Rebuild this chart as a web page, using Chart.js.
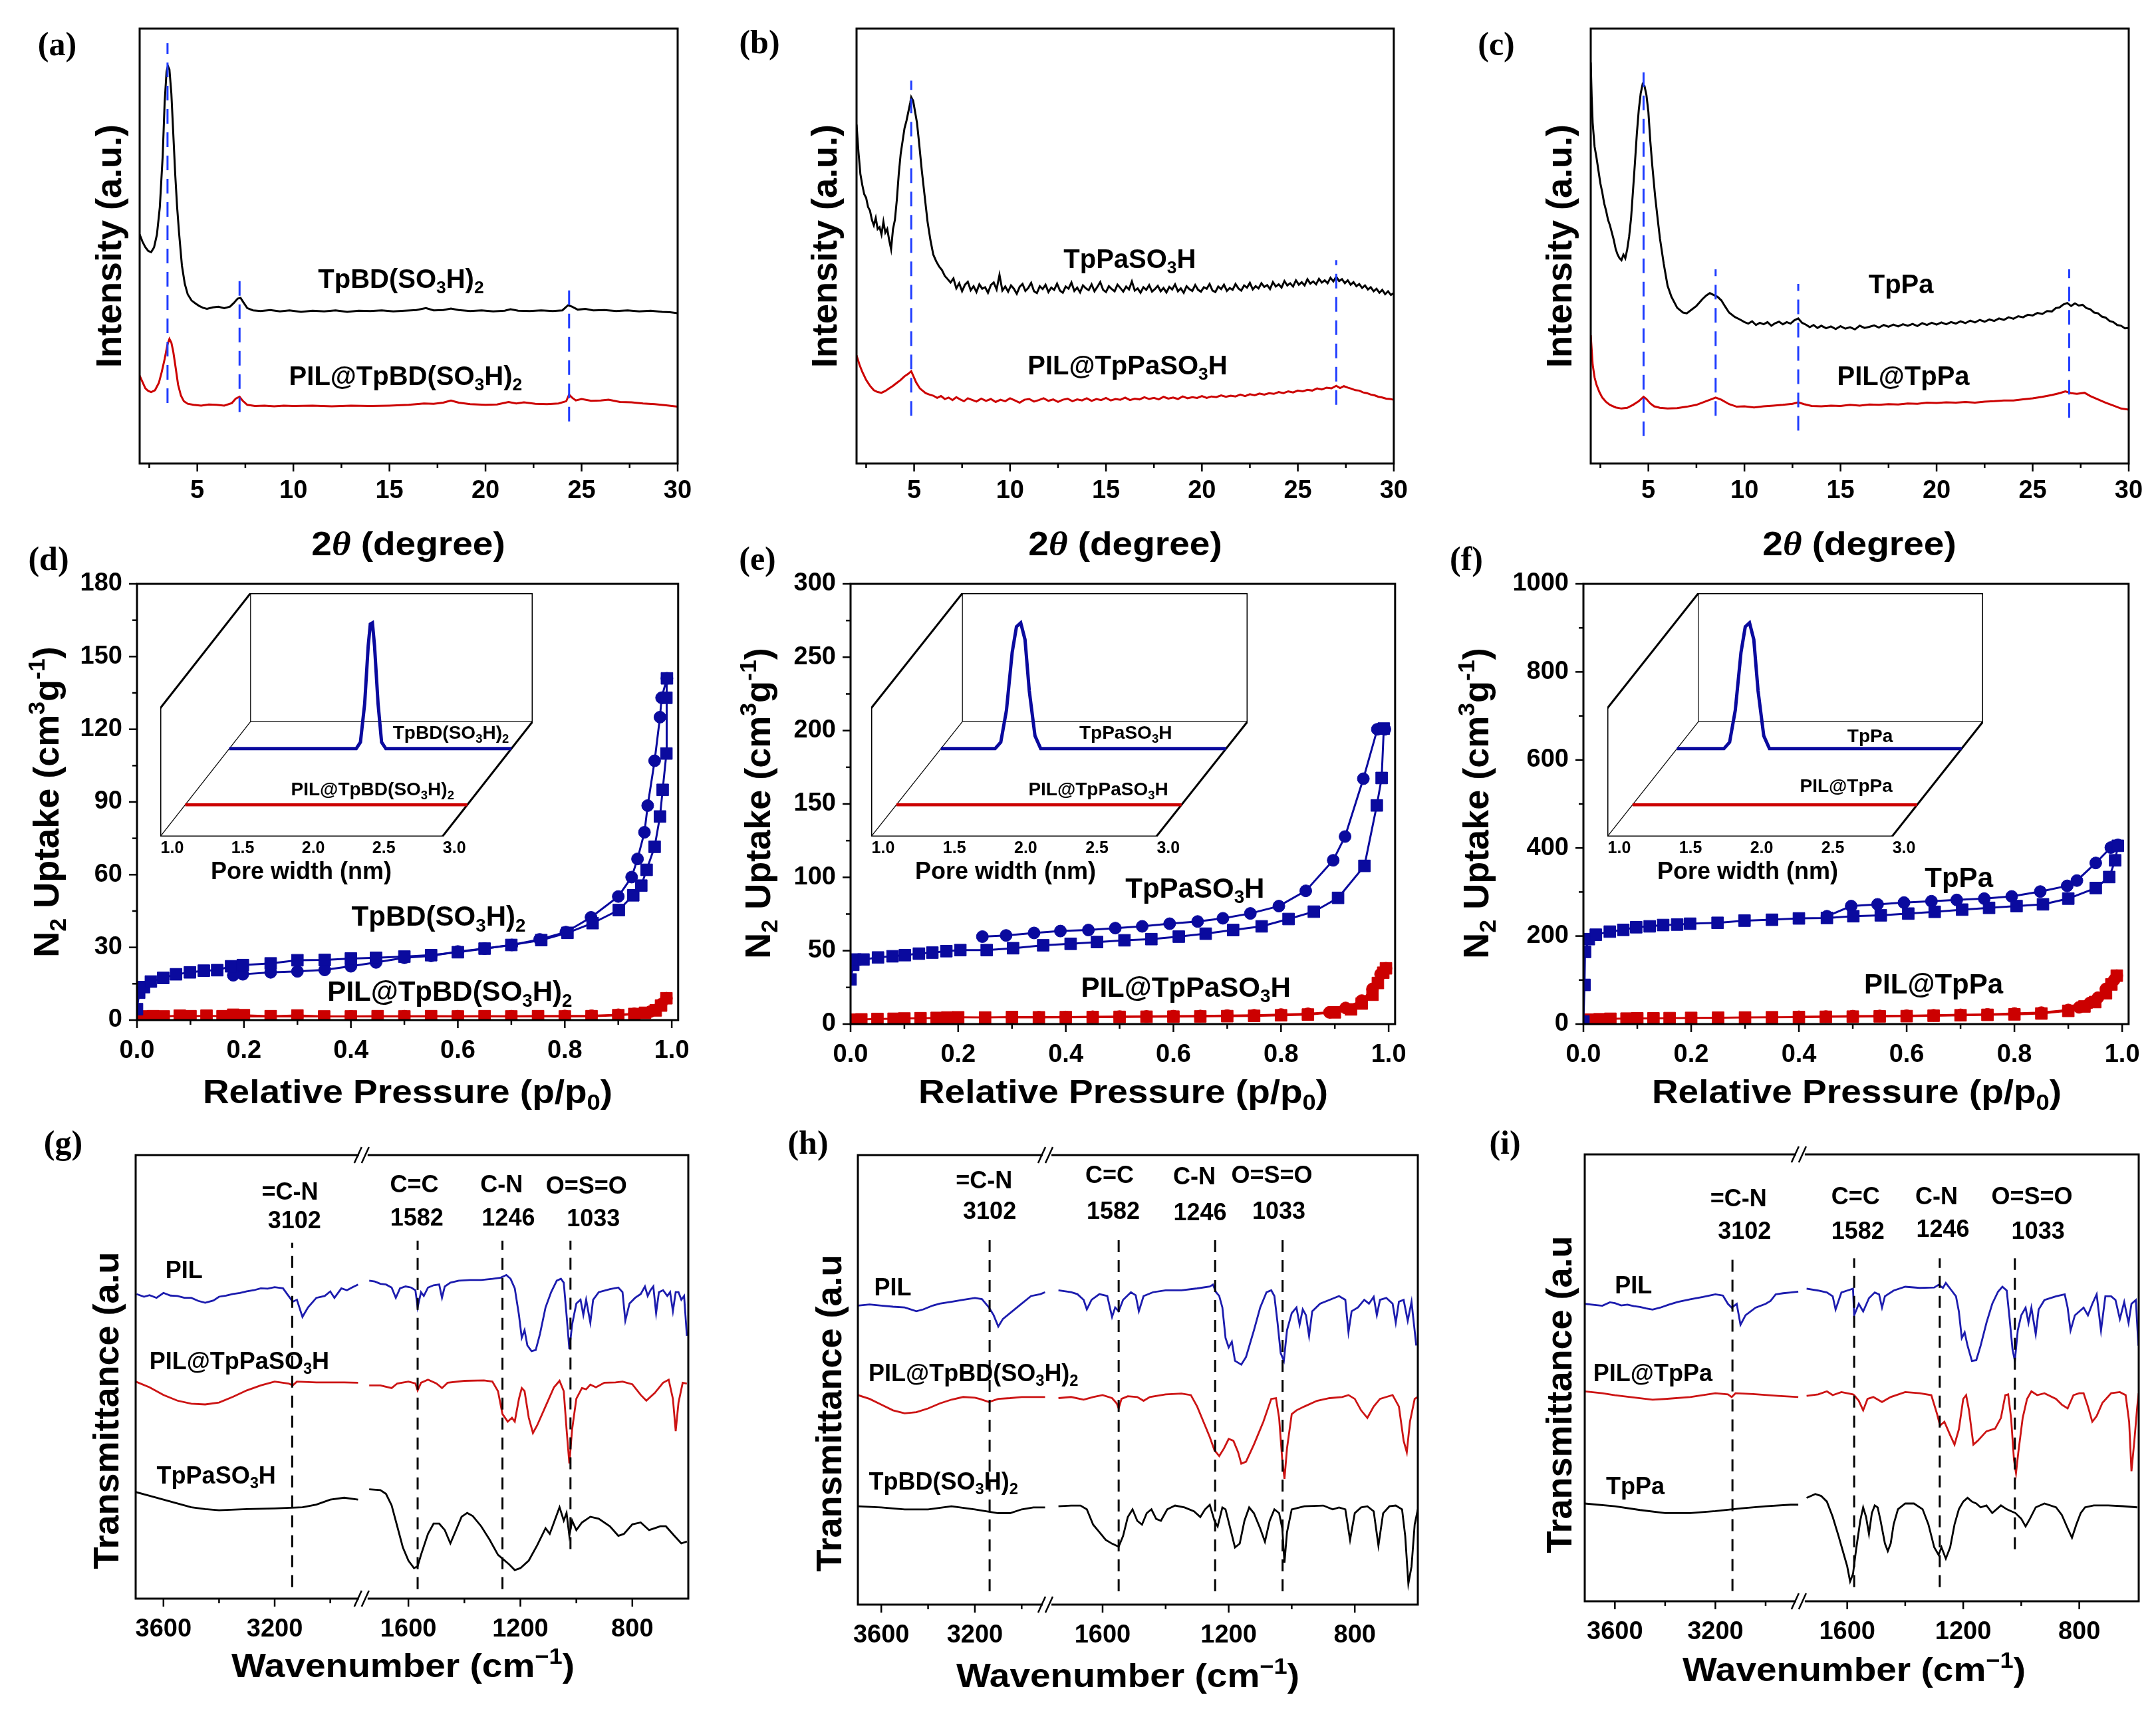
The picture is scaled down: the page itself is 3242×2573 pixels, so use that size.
<!DOCTYPE html>
<html>
<head>
<meta charset="utf-8">
<title>PXRD, N2 sorption and FTIR</title>
<script src="https://cdn.jsdelivr.net/npm/chart.js@4"></script>
<style>
  html, body { margin: 0; padding: 0; background: #fff; }
  #page { position: relative; width: 3242px; height: 2573px; overflow: hidden; background: #fff; }
  .box { position: absolute; }
  .box canvas { display: block; }
</style>
</head>
<body>
<div id="page"></div>
<script>
// ---------- data ----------
// PXRD: [2theta, intensity (a.u.)]
const aTpBD = [[2.0,625],[2.15,605],[2.3,590],[2.45,580],[2.6,577],[2.75,590],[2.9,625],[3.05,700],[3.2,840],[3.3,985],[3.4,1070],[3.47,1085],[3.55,1075],[3.65,1010],[3.75,900],[3.85,790],[3.95,700],[4.05,630],[4.2,540],[4.35,490],[4.5,462],[4.7,445],[4.9,437],[5.1,430],[5.3,425],[5.5,422],[5.8,426],[6.1,428],[6.4,424],[6.7,428],[6.9,438],[7.1,450],[7.25,452],[7.4,440],[7.6,424],[7.9,418],[8.3,416],[8.8,419],[9.3,415],[9.8,418],[10.4,414],[11,417],[11.6,415],[12.2,418],[12.8,414],[13.4,417],[14,416],[14.6,418],[15.2,415],[15.8,417],[16.4,419],[16.9,424],[17.3,418],[17.8,419],[18.2,423],[18.6,419],[19.2,416],[19.8,418],[20.4,415],[21.0,417],[21.3,421],[21.7,417],[22.3,416],[22.9,418],[23.5,416],[24.0,418],[24.3,432],[24.5,428],[24.8,420],[25.2,422],[25.6,418],[26.2,419],[26.8,416],[27.4,418],[28,415],[28.6,417],[29.2,414],[29.6,413],[30,410]];
const aPIL = [[2.0,240],[2.15,222],[2.3,205],[2.45,198],[2.6,195],[2.8,200],[3.0,220],[3.15,250],[3.3,285],[3.45,325],[3.55,340],[3.65,330],[3.75,305],[3.85,270],[4.0,215],[4.15,185],[4.3,170],[4.5,163],[4.8,160],[5.2,158],[5.6,161],[6.0,160],[6.4,158],[6.8,165],[7.0,177],[7.2,182],[7.35,172],[7.6,160],[8.0,157],[8.5,158],[9,156],[9.5,158],[10,157],[11,158],[12,156],[13,158],[14,157],[15,158],[16,160],[16.8,164],[17.3,163],[17.8,166],[18.2,172],[18.6,166],[19.2,162],[20,160],[20.6,161],[21.2,168],[21.6,164],[22,167],[22.6,163],[23.2,162],[23.8,164],[24.2,170],[24.35,188],[24.5,180],[24.7,172],[25.0,176],[25.5,171],[26.0,172],[26.4,174],[27,168],[27.6,167],[28.2,164],[28.8,162],[29.4,159],[30,155]];
const aMarks = [[3.45,165,1147],[7.2,140,505],[24.35,115,485]];

const bTpPaSO3H = [[2.0,925],[2.1,850],[2.2,790],[2.3,760],[2.4,735],[2.5,725],[2.6,700],[2.7,690],[2.8,665],[2.9,650],[3.0,670],[3.1,640],[3.2,645],[3.3,625],[3.4,660],[3.5,630],[3.6,640],[3.7,610],[3.8,585],[3.9,640],[4.0,665],[4.1,720],[4.2,790],[4.3,845],[4.4,880],[4.5,915],[4.6,935],[4.7,960],[4.8,985],[4.85,1000],[4.95,990],[5.05,960],[5.15,930],[5.25,880],[5.4,800],[5.55,730],[5.7,660],[5.85,610],[6.0,570],[6.15,552],[6.3,538],[6.45,528],[6.6,512],[6.75,503],[6.9,494],[7.05,505],[7.2,478],[7.35,492],[7.5,470],[7.65,488],[7.8,496],[7.95,473],[8.1,484],[8.25,468],[8.4,489],[8.55,477],[8.7,481],[8.85,466],[9.0,487],[9.15,494],[9.3,475],[9.45,515],[9.6,472],[9.75,483],[9.9,469],[10.05,486],[10.2,477],[10.35,463],[10.5,482],[10.65,490],[10.8,471],[10.95,479],[11.1,493],[11.25,470],[11.4,465],[11.55,484],[11.7,476],[11.85,488],[12.0,468],[12.15,480],[12.3,474],[12.45,491],[12.6,472],[12.75,466],[12.9,483],[13.05,477],[13.2,494],[13.35,471],[13.5,480],[13.65,467],[13.8,486],[13.95,478],[14.1,473],[14.25,489],[14.4,470],[14.55,482],[14.7,495],[14.85,474],[15.0,468],[15.15,484],[15.3,476],[15.45,470],[15.6,488],[15.75,479],[15.9,469],[16.05,483],[16.2,475],[16.35,497],[16.5,472],[16.65,478],[16.8,466],[16.95,481],[17.1,474],[17.25,487],[17.4,469],[17.55,476],[17.7,485],[17.85,470],[18.0,479],[18.15,467],[18.3,482],[18.45,475],[18.6,489],[18.75,470],[18.9,478],[19.05,466],[19.2,484],[19.35,476],[19.5,471],[19.65,487],[19.8,474],[19.95,469],[20.1,481],[20.25,477],[20.4,490],[20.55,472],[20.7,468],[20.85,483],[21.0,476],[21.15,488],[21.3,471],[21.45,479],[21.6,474],[21.75,490],[21.9,478],[22.05,472],[22.2,486],[22.35,480],[22.5,493],[22.65,475],[22.8,484],[22.95,478],[23.1,492],[23.25,482],[23.4,487],[23.55,476],[23.7,495],[23.85,483],[24.0,489],[24.15,480],[24.3,498],[24.45,486],[24.6,492],[24.75,483],[24.9,500],[25.05,488],[25.2,495],[25.35,486],[25.5,503],[25.65,491],[25.8,497],[25.95,489],[26.1,504],[26.25,494],[26.4,500],[26.55,492],[26.7,507],[26.85,497],[27.0,510],[27.15,498],[27.3,503],[27.45,492],[27.6,500],[27.75,488],[27.9,495],[28.05,484],[28.2,490],[28.35,479],[28.5,486],[28.65,475],[28.8,481],[28.95,470],[29.1,477],[29.25,466],[29.4,474],[29.55,462],[29.7,470],[29.85,460],[30.0,465]];
const bPIL = [[2.0,295],[2.15,270],[2.3,250],[2.5,228],[2.7,212],[2.9,200],[3.1,195],[3.3,193],[3.5,198],[3.7,205],[3.9,212],[4.1,220],[4.3,228],[4.5,238],[4.7,245],[4.85,252],[4.95,240],[5.1,222],[5.3,205],[5.6,192],[5.8,188],[6.0,185],[6.2,179],[6.4,184],[6.6,176],[6.8,180],[7.0,173],[7.2,181],[7.4,175],[7.6,170],[7.8,178],[8.0,174],[8.25,169],[8.5,177],[8.75,171],[9.0,176],[9.25,168],[9.5,174],[9.75,170],[10.0,178],[10.25,172],[10.5,166],[10.75,174],[11.0,176],[11.25,169],[11.5,173],[11.75,178],[12.0,171],[12.25,175],[12.5,168],[12.75,174],[13.0,177],[13.25,170],[13.5,175],[13.75,172],[14.0,178],[14.25,171],[14.5,176],[14.75,173],[15.0,179],[15.25,172],[15.5,176],[15.75,174],[16.0,180],[16.25,173],[16.5,177],[16.75,175],[17.0,181],[17.25,176],[17.5,179],[17.75,175],[18.0,182],[18.25,177],[18.5,180],[18.75,176],[19.0,183],[19.25,178],[19.5,181],[19.75,179],[20.0,184],[20.25,179],[20.5,183],[20.75,181],[21.0,186],[21.25,182],[21.5,185],[21.75,183],[22.0,188],[22.25,184],[22.5,189],[22.75,186],[23.0,191],[23.25,188],[23.5,192],[23.75,190],[24.0,195],[24.25,192],[24.5,197],[24.75,194],[25.0,199],[25.25,197],[25.5,201],[25.75,199],[26.0,205],[26.25,202],[26.5,207],[26.75,205],[27.0,212],[27.2,206],[27.4,211],[27.6,207],[27.8,204],[28.0,200],[28.2,199],[28.4,194],[28.6,192],[28.8,188],[29.0,186],[29.2,182],[29.4,180],[29.6,177],[29.8,176],[30,174]];
const bMarks = [[4.85,130,1045],[27.0,160,555]];

const cTpPa = [[2.0,1095],[2.05,1000],[2.1,930],[2.2,865],[2.3,835],[2.4,800],[2.5,765],[2.6,740],[2.7,710],[2.8,690],[2.9,665],[3.0,650],[3.1,630],[3.2,610],[3.3,585],[3.4,570],[3.5,560],[3.6,555],[3.7,570],[3.8,560],[3.9,585],[4.0,620],[4.1,670],[4.2,745],[4.3,820],[4.4,900],[4.5,965],[4.6,1010],[4.7,1035],[4.8,1030],[4.9,1005],[5.0,960],[5.1,880],[5.2,815],[5.35,730],[5.5,660],[5.6,615],[5.8,545],[6.0,485],[6.2,455],[6.5,425],[6.8,412],[7.0,410],[7.2,418],[7.5,430],[7.8,448],[8.0,458],[8.2,465],[8.4,460],[8.6,455],[8.8,445],[9.0,428],[9.2,412],[9.5,400],[9.8,392],[10.0,386],[10.2,382],[10.4,388],[10.6,378],[10.8,384],[11,380],[11.2,386],[11.4,376],[11.6,383],[11.8,387],[12.0,380],[12.2,386],[12.4,382],[12.6,391],[12.8,396],[13.0,384],[13.2,379],[13.4,372],[13.6,378],[13.8,370],[14.0,376],[14.25,369],[14.5,374],[14.75,367],[15.0,375],[15.25,368],[15.5,372],[15.75,366],[16.0,376],[16.25,370],[16.5,373],[16.75,377],[17.0,371],[17.25,378],[17.5,373],[17.75,379],[18.0,374],[18.25,380],[18.5,376],[18.75,381],[19.0,375],[19.25,383],[19.5,378],[19.75,384],[20.0,379],[20.25,385],[20.5,380],[20.75,386],[21.0,382],[21.25,388],[21.5,383],[21.75,390],[22.0,385],[22.25,392],[22.5,387],[22.75,393],[23.0,389],[23.25,396],[23.5,392],[23.75,399],[24.0,395],[24.25,402],[24.5,399],[24.75,406],[25.0,404],[25.25,411],[25.5,408],[25.75,416],[26.0,415],[26.2,424],[26.4,426],[26.6,434],[26.8,438],[27.0,430],[27.2,437],[27.4,431],[27.6,433],[27.8,424],[28.0,421],[28.2,412],[28.4,410],[28.6,401],[28.8,398],[29.0,389],[29.2,386],[29.4,378],[29.6,376],[29.8,369],[30,370]];
const cPIL = [[2.0,350],[2.05,310],[2.1,270],[2.2,235],[2.3,215],[2.45,195],[2.6,180],[2.8,168],[3.0,160],[3.3,153],[3.6,150],[3.9,152],[4.2,160],[4.5,170],[4.75,182],[4.9,176],[5.1,164],[5.3,156],[5.6,152],[6.0,150],[6.5,151],[7.0,155],[7.5,160],[8.0,170],[8.3,176],[8.5,180],[8.8,174],[9.2,162],[9.6,155],[10,156],[10.5,153],[11,156],[11.5,158],[12,160],[12.5,163],[12.8,167],[13.1,162],[13.5,157],[14,156],[14.5,158],[15,157],[15.5,160],[16,158],[16.5,161],[17,160],[17.5,162],[18,161],[18.5,164],[19,163],[19.5,166],[20,165],[20.5,167],[21,166],[21.5,168],[22,166],[22.5,169],[23,170],[23.5,172],[24,172],[24.5,175],[25,178],[25.5,182],[26,187],[26.4,192],[26.7,197],[27,192],[27.3,190],[27.7,193],[28,184],[28.4,175],[28.8,166],[29.2,158],[29.6,150],[30,147]];
const cMarks = [[4.75,75,1080],[8.5,130,530],[12.8,90,490],[26.9,125,530]];

const xrdTicks = [5, 10, 15, 20, 25, 30];
const xrdTickLabels = ['5', '10', '15', '20', '25', '30'];
const xrdMinor = [2.5, 7.5, 12.5, 17.5, 22.5, 27.5];

// N2 isotherms: [p/p0, uptake cm3/g]
const dTpBDads = [[0.0,4.5],[0.004,11.3],[0.013,13.6],[0.026,15.9],[0.049,17.4],[0.073,18.9],[0.099,19.7],[0.125,20.4],[0.15,20.6],[0.176,22.2],[0.198,22.7],[0.25,23.4],[0.3,24.7],[0.351,24.8],[0.4,25.4],[0.447,25.7],[0.5,26.2],[0.55,26.8],[0.6,28],[0.65,29.5],[0.7,31],[0.756,33],[0.805,36],[0.852,40],[0.901,45.4],[0.928,51.5],[0.943,55.5],[0.953,62],[0.968,71.5],[0.978,84],[0.983,95],[0.99,110],[0.99,133],[0.991,141]];
const dTpBDdes = [[0.991,141],[0.981,133],[0.978,125],[0.968,107],[0.955,88.5],[0.949,77.5],[0.936,66.5],[0.925,59],[0.9,51],[0.849,42.4],[0.802,36.3],[0.753,33.3],[0.701,31],[0.65,29.5],[0.6,28.3],[0.55,26.5],[0.5,25.7],[0.447,23.8],[0.4,22.2],[0.351,20.7],[0.3,20.1],[0.25,19.7],[0.198,18.9],[0.18,18.5]];
const dPILads = [[0.0,1.0],[0.01,1.5],[0.03,1.6],[0.05,1.5],[0.08,1.8],[0.1,1.6],[0.13,1.8],[0.16,1.6],[0.18,2.2],[0.2,2.0],[0.25,1.6],[0.3,1.9],[0.35,1.5],[0.4,1.5],[0.45,1.6],[0.5,1.5],[0.55,1.6],[0.6,1.5],[0.65,1.6],[0.7,1.5],[0.75,1.6],[0.8,1.5],[0.85,1.6],[0.9,2.0],[0.93,2.5],[0.95,3.0],[0.97,4.0],[0.98,6.0],[0.99,9.0]];
const dPILdes = [[0.99,9.0],[0.98,6.5],[0.96,3.5],[0.93,2.6],[0.9,2.2],[0.85,1.8],[0.8,1.7],[0.7,1.6],[0.6,1.6],[0.5,1.6],[0.4,1.5],[0.3,1.5],[0.2,1.5]];

const eTpPaSO3Hads = [[0.0,30.4],[0.005,40.4],[0.009,44],[0.024,44],[0.051,45.4],[0.078,46.2],[0.101,47],[0.127,48],[0.152,48.7],[0.178,49.7],[0.204,50.4],[0.253,50.4],[0.302,51.7],[0.358,53.7],[0.409,54.7],[0.458,55.9],[0.509,57.1],[0.559,57.9],[0.61,59.6],[0.66,61.6],[0.711,64.1],[0.764,66.6],[0.814,71.6],[0.861,76.6],[0.906,86],[0.955,107.8],[0.978,149],[0.987,167.7],[0.991,201.4]];
const eTpPaSO3Hdes = [[0.993,200.9],[0.979,200.9],[0.953,167.2],[0.919,127.8],[0.897,111.6],[0.846,90.8],[0.796,80.4],[0.743,75.4],[0.692,72.1],[0.645,69.9],[0.593,68.4],[0.542,66.6],[0.492,65.4],[0.442,64.1],[0.39,63.4],[0.341,62.1],[0.289,60.4],[0.245,59.6]];
const ePILads = [[0.0,3],[0.02,3.2],[0.05,3.5],[0.08,3.6],[0.1,3.8],[0.13,4.0],[0.16,4.2],[0.18,4.5],[0.2,4.6],[0.25,4.5],[0.3,4.8],[0.35,4.6],[0.4,4.7],[0.45,4.8],[0.5,4.9],[0.55,5.0],[0.6,5.1],[0.65,5.2],[0.7,5.4],[0.75,5.6],[0.8,6.0],[0.85,6.5],[0.9,8],[0.93,10],[0.95,14],[0.97,20],[0.98,28],[0.99,35],[0.995,38]];
const ePILdes = [[0.995,38],[0.985,34],[0.97,24],[0.95,16],[0.92,11],[0.89,8],[0.85,7],[0.8,6.5],[0.75,6],[0.7,5.8],[0.65,5.5],[0.6,5.4],[0.55,5.2],[0.5,5.1],[0.45,5],[0.4,4.8],[0.35,4.7],[0.3,4.6]];

const fTpPaads = [[0.0,6],[0.002,89],[0.003,164],[0.01,193],[0.023,203],[0.049,210],[0.074,214],[0.098,220],[0.123,222],[0.148,225],[0.174,226],[0.198,228],[0.249,230],[0.299,235],[0.35,237],[0.4,240],[0.452,241],[0.501,245],[0.552,247],[0.603,251],[0.652,255],[0.703,260],[0.753,264],[0.804,268],[0.853,272],[0.9,285],[0.951,309],[0.976,334],[0.987,372],[0.992,405]];
const fTpPades = [[0.992,407],[0.979,401],[0.951,366],[0.916,326],[0.898,314],[0.848,301],[0.795,290],[0.744,285],[0.693,282],[0.646,279],[0.595,276],[0.546,272],[0.497,268],[0.452,245]];
const fPILads = [[0.0,5],[0.01,10],[0.03,11],[0.05,12],[0.08,12.5],[0.1,13],[0.13,13],[0.16,13.5],[0.2,14],[0.25,14.5],[0.3,15],[0.35,15.5],[0.4,16],[0.45,16.5],[0.5,17],[0.55,17.5],[0.6,18],[0.65,19],[0.7,20],[0.75,21],[0.8,22],[0.85,24],[0.9,30],[0.93,40],[0.95,50],[0.97,70],[0.98,90],[0.99,110]];
const fPILdes = [[0.99,110],[0.985,100],[0.97,80],[0.955,60],[0.94,48],[0.92,38],[0.9,32],[0.85,26],[0.8,24],[0.75,22],[0.7,21],[0.65,20],[0.6,19],[0.55,18.5],[0.5,18],[0.45,17],[0.4,16.5]];

const isoXTicks = [0, 0.2, 0.4, 0.6, 0.8, 1.0];
const isoXLabels = ['0.0', '0.2', '0.4', '0.6', '0.8', '1.0'];
const isoXMinor = [0.1, 0.3, 0.5, 0.7, 0.9];
const dYTicks = [0, 30, 60, 90, 120, 150, 180];
const eYTicks = [0, 50, 100, 150, 200, 250, 300];
const fYTicks = [0, 200, 400, 600, 800, 1000];

// pore size distributions (insets): [pore width nm, normalised dV]
const dPoreTpBD = [[1.0,0],[1.9,0],[1.93,0.05],[1.96,0.35],[1.985,0.8],[2.0,0.97],[2.015,0.98],[2.03,0.8],[2.055,0.35],[2.08,0.05],[2.11,0],[3.0,0]];
const ePoreTpPaSO3H = [[1.0,0],[1.38,0],[1.42,0.05],[1.46,0.3],[1.5,0.75],[1.53,0.95],[1.56,0.98],[1.59,0.85],[1.62,0.45],[1.66,0.1],[1.7,0],[3.0,0]];
const fPoreTpPa = [[1.0,0],[1.33,0],[1.37,0.05],[1.41,0.3],[1.45,0.75],[1.48,0.95],[1.51,0.98],[1.54,0.85],[1.57,0.45],[1.61,0.1],[1.65,0],[3.0,0]];
const porePIL = [[1.0,0],[3.0,0]];
const poreTicks = [1.0, 1.5, 2.0, 2.5, 3.0];
const poreLabels = ['1.0', '1.5', '2.0', '2.5', '3.0'];

// FTIR: [wavenumber cm-1, transmittance (a.u.)]
const gPIL = [[3697,800],[3670,793],[3650,797],[3625,790],[3600,803],[3575,796],[3550,795],[3525,790],[3500,790],[3475,782],[3450,777],[3420,783],[3400,793],[3375,796],[3350,800],[3325,803],[3300,807],[3275,810],[3250,815],[3225,814],[3200,818],[3170,815],[3150,795],[3135,780],[3120,785],[3100,740],[3080,765],[3050,790],[3020,795],[3000,807],[2985,790],[2960,815],[2940,810],[2920,818],[2900,825],[1740,835],[1720,833],[1700,827],[1680,825],[1660,817],[1645,790],[1630,815],[1610,820],[1590,817],[1575,810],[1567,765],[1555,805],[1545,795],[1530,817],[1510,823],[1490,825],[1480,790],[1470,820],[1450,830],[1420,835],[1380,837],[1340,837],[1300,840],[1270,843],[1250,850],[1235,840],[1220,815],[1205,745],[1195,685],[1185,705],[1175,665],[1160,650],[1145,653],[1130,695],[1110,765],[1090,805],[1070,835],[1055,840],[1045,830],[1035,745],[1025,655],[1015,720],[1000,775],[985,785],[975,745],[965,785],[950,725],[940,785],[920,805],[880,813],[850,817],[835,805],[825,730],[810,775],[790,790],[770,800],[755,820],[745,795],[735,810],[725,820],[715,750],[705,805],[690,810],[675,795],[665,805],[655,755],[645,805],[635,805],[625,785],[615,795],[605,690]];
const gPILTpPaSO3H = [[3700,570],[3650,555],[3600,535],[3550,520],[3500,512],[3450,510],[3400,515],[3350,530],[3300,547],[3250,560],[3200,570],[3150,565],[3135,560],[3120,570],[3050,568],[2950,568],[2900,567],[1740,560],[1700,560],[1660,553],[1640,565],[1600,570],[1575,565],[1567,547],[1555,567],[1530,575],[1500,565],[1480,553],[1460,567],[1400,572],[1330,573],[1300,570],[1280,545],[1264,485],[1245,465],[1230,475],[1220,465],[1205,525],[1195,553],[1185,545],[1170,475],[1155,435],[1140,455],[1110,505],[1080,555],[1060,572],[1045,545],[1035,445],[1025,355],[1015,445],[1000,525],[980,553],[965,550],[950,562],[930,555],[900,567],[860,568],[835,570],[800,563],[770,535],[750,520],[720,540],[690,567],[670,575],[655,525],[645,440],[635,515],[620,567],[605,565]];
const gTpPaSO3H = [[3700,280],[3650,270],[3600,260],[3550,250],[3500,240],[3450,235],[3400,232],[3300,235],[3200,237],[3100,240],[3050,247],[3000,260],[2950,265],[2900,260],[1740,287],[1700,285],[1680,275],[1660,245],[1640,190],[1620,135],[1600,100],[1580,80],[1567,85],[1555,115],[1530,170],[1510,197],[1490,197],[1470,180],[1450,145],[1430,180],[1410,215],[1390,225],[1370,217],[1340,190],[1310,155],[1280,115],[1264,105],[1240,90],[1220,75],[1200,80],[1170,100],[1140,140],[1110,185],[1095,170],[1080,200],[1060,240],[1045,205],[1035,225],[1025,165],[1015,205],[1000,180],[980,200],[950,215],[920,210],[880,190],[850,165],[830,170],[800,195],[770,200],[740,180],[720,185],[700,190],[680,190],[650,165],[625,145],[605,150]];

const hPIL = [[3700,785],[3650,788],[3600,785],[3550,782],[3500,780],[3450,770],[3420,775],[3380,785],[3350,790],[3300,795],[3250,800],[3200,805],[3170,802],[3140,780],[3120,760],[3100,730],[3080,750],[3040,770],[3000,790],[2960,810],[2920,815],[2900,820],[1740,825],[1700,820],[1680,815],[1660,800],[1650,775],[1635,800],[1610,815],[1585,810],[1570,755],[1560,780],[1549,770],[1535,800],[1510,820],[1495,812],[1485,770],[1470,810],[1440,820],[1400,825],[1350,825],[1300,830],[1260,835],[1250,840],[1240,820],[1230,810],[1220,780],[1210,700],[1200,675],[1190,690],[1180,640],[1160,630],[1145,650],[1120,720],[1100,780],[1080,820],[1065,825],[1055,810],[1045,740],[1035,660],[1025,640],[1015,720],[1000,765],[985,780],[975,735],[965,775],[955,760],[945,705],[935,770],[910,790],[880,800],[850,810],[830,800],[820,715],[810,770],[790,780],[770,800],[755,790],[740,808],[730,760],[720,800],[700,805],[680,790],[670,740],[660,795],[645,800],[632,745],[620,795],[605,680]];
const hPILTpBD = [[3700,550],[3650,540],[3600,525],[3550,510],[3500,502],[3450,505],[3400,515],[3350,528],[3300,538],[3250,545],[3200,543],[3180,540],[3140,532],[3100,540],[3050,542],[3000,545],[2950,545],[2900,545],[1740,542],[1700,545],[1660,538],[1630,545],[1600,550],[1570,542],[1555,528],[1549,515],[1540,540],[1520,547],[1490,545],[1470,535],[1450,545],[1400,552],[1350,554],[1320,550],[1300,520],[1280,480],[1260,440],[1245,405],[1230,390],[1215,410],[1200,435],[1185,430],[1170,400],[1160,370],[1145,375],[1120,420],[1090,480],[1065,540],[1050,542],[1040,490],[1030,380],[1023,330],[1015,410],[1000,500],[985,510],[960,520],[920,535],[880,542],[840,545],[820,550],[800,540],[780,510],[760,490],[740,520],[720,540],[700,545],[680,550],[660,520],[645,430],[635,400],[625,480],[610,540],[600,545]];
const hTpBD = [[3700,258],[3600,255],[3500,250],[3400,250],[3300,258],[3200,250],[3100,240],[3050,240],[3000,250],[2950,255],[2900,255],[1740,258],[1700,260],[1670,260],[1650,250],[1630,210],[1610,190],[1590,170],[1570,160],[1549,152],[1535,180],[1520,230],[1505,250],[1490,220],[1475,210],[1460,240],[1445,250],[1430,225],[1415,220],[1395,250],[1370,260],[1340,255],[1310,245],[1290,230],[1275,250],[1260,262],[1245,220],[1235,205],[1220,255],[1210,250],[1195,200],[1180,150],[1165,160],[1150,220],[1135,255],[1120,240],[1100,200],[1085,165],[1070,220],[1055,250],[1040,240],[1030,200],[1023,110],[1015,190],[1000,250],[960,258],[900,260],[870,250],[850,255],[830,250],[815,170],[800,240],[780,255],[760,258],[740,245],[725,155],[710,240],[690,258],[670,260],[650,250],[640,180],[630,55],[620,100],[610,210],[600,250]];

const iPIL = [[3720,782],[3680,779],[3650,777],[3620,786],[3600,784],[3575,778],[3550,780],[3525,776],[3500,774],[3475,770],[3450,767],[3420,772],[3385,780],[3350,787],[3300,794],[3250,800],[3200,807],[3170,804],[3150,782],[3135,772],[3115,782],[3100,727],[3080,752],[3040,772],[3000,782],[2980,790],[2960,807],[2930,810],[2900,812],[2870,814],[1740,822],[1700,817],[1670,812],[1650,802],[1640,767],[1620,812],[1600,817],[1580,822],[1576,752],[1560,782],[1545,762],[1525,797],[1505,812],[1490,807],[1480,772],[1470,802],[1440,817],[1400,827],[1350,824],[1300,825],[1285,832],[1270,824],[1260,837],[1240,817],[1225,802],[1215,762],[1205,692],[1195,707],[1185,672],[1170,632],[1155,634],[1140,672],[1120,732],[1100,782],[1080,814],[1065,827],[1050,817],[1040,742],[1030,662],[1022,632],[1012,712],[1000,752],[985,772],[975,732],[965,772],[950,702],[940,767],[920,792],[880,802],[850,807],[840,772],[830,712],[815,752],[800,762],[785,772],[770,752],[755,782],[740,807],[725,712],[710,802],[690,802],[675,792],[660,742],[645,787],[630,732],[620,782],[605,792],[596,672]];
const iPILTpPa = [[3720,552],[3650,547],[3600,542],[3500,534],[3450,530],[3400,532],[3300,537],[3200,547],[3150,544],[3135,537],[3120,547],[3050,545],[2950,540],[2870,537],[1740,540],[1700,544],[1670,552],[1650,542],[1620,550],[1580,544],[1576,542],[1560,527],[1545,502],[1530,532],[1510,537],[1480,524],[1450,537],[1400,550],[1350,547],[1310,542],[1290,492],[1280,462],[1265,472],[1245,437],[1230,412],[1215,452],[1200,532],[1190,542],[1180,502],[1165,412],[1150,422],[1120,447],[1090,454],[1070,482],[1055,542],[1045,544],[1035,482],[1025,372],[1018,337],[1010,392],[995,482],[980,532],[965,552],[945,542],[920,547],[880,532],[860,517],[840,507],[820,542],[800,547],[785,547],[770,512],[755,472],[740,487],[720,522],[690,547],[660,550],[640,542],[628,472],[620,342],[610,422],[600,512],[595,547]];
const iTpPa = [[3720,257],[3600,250],[3500,240],[3400,232],[3300,232],[3200,237],[3100,244],[3000,250],[2900,254],[2870,254],[1740,272],[1710,282],[1690,277],[1670,262],[1650,222],[1630,172],[1615,132],[1600,92],[1590,52],[1580,72],[1570,132],[1555,212],[1545,247],[1535,222],[1525,177],[1515,232],[1505,252],[1495,247],[1485,212],[1470,152],[1460,132],[1450,152],[1440,202],[1425,242],[1400,257],[1370,257],[1340,242],[1320,202],[1300,142],[1285,122],[1275,142],[1260,112],[1245,142],[1230,202],[1215,242],[1200,262],[1185,272],[1170,262],[1155,257],[1140,247],[1120,252],[1100,232],[1085,242],[1070,252],[1050,242],[1035,237],[1020,232],[1000,217],[985,197],[970,217],[950,247],[920,257],[880,247],[860,227],[840,192],[825,167],[810,202],[795,232],[780,247],[750,252],[700,252],[650,250],[600,247]];

const ftTicks = [3600, 3200, 1600, 1200, 800];
const ftTickLabels = ['3600', '3200', '1600', '1200', '800'];
const ftMinor = [3400, 3000, 1400, 1000];
const ftBandNames = ['=C-N', 'C=C', 'C-N', 'O=S=O'];
const ftBandValues = ['3102', '1582', '1246', '1033'];
// where the dashed guides sit in each panel: [wavenumber, yBottom, yTop]
const gGuides = [[3137,30,935],[1567,25,940],[1264,25,940],[1021,130,940]];
const hGuides = [[3137,35,965],[1549,35,960],[1243,35,960],[1029,35,960]];
const iGuides = [[3132,27,902],[1576,37,902],[1281,37,902],[1022,137,902]];

// ---------- drawing helpers ----------
const SANS = "'Liberation Sans', Arial, Helvetica, sans-serif";
const SERIF = "'Liberation Serif', 'Times New Roman', serif";
const BLACK = '#000000', RED = '#cc0000', NAVY = '#0a0a9e', DASHBLUE = '#1f3cff', FTBLUE = '#1c1cae', FTRED = '#cc1414';

Chart.defaults.font.family = SANS;
Chart.defaults.font.weight = 'bold';
Chart.defaults.color = '#000';

function parseRich(s) {
  const out = [];
  let buf = '', i = 0;
  while (i < s.length) {
    const c = s[i];
    if ((c === '_' || c === '^' || c === '*') && s[i + 1] === '{') {
      if (buf) { out.push({ t: buf, m: 'n' }); buf = ''; }
      const end = s.indexOf('}', i);
      out.push({ t: s.slice(i + 2, end), m: c === '_' ? 'sub' : c === '^' ? 'sup' : 'it' });
      i = end + 1;
    } else { buf += c; i++; }
  }
  if (buf) out.push({ t: buf, m: 'n' });
  return out;
}

function drawRich(ctx, s, x, y, size, o) {
  o = o || {};
  const fam = o.family || SANS;
  const fontOf = m => {
    const sz = (m === 'sub' || m === 'sup') ? size * 0.66 : size;
    if (m === 'it') return `italic bold ${sz}px ${SERIF}`;
    return `bold ${sz}px ${fam}`;
  };
  const parts = parseRich(s);
  ctx.save();
  ctx.translate(x, y);
  if (o.rot) ctx.rotate(o.rot);
  if (o.sx) ctx.scale(o.sx, 1);
  let total = 0;
  const widths = parts.map(p => { ctx.font = fontOf(p.m); const w = ctx.measureText(p.t).width; total += w; return w; });
  let cx = o.align === 'left' ? 0 : -total / 2;
  ctx.fillStyle = o.color || '#000';
  ctx.textAlign = 'left';
  ctx.textBaseline = 'alphabetic';
  parts.forEach((p, i) => {
    ctx.font = fontOf(p.m);
    let dy = size * 0.36;
    if (p.m === 'sub') dy += size * 0.2;
    if (p.m === 'sup') dy -= size * 0.4;
    ctx.fillText(p.t, cx, dy);
    cx += widths[i];
  });
  ctx.restore();
}

function decor(p) {
  return {
    id: 'decor',
    afterDraw(chart) {
      const ctx = chart.ctx, a = chart.chartArea;
      const X = chart.scales.x, Y = chart.scales.y;
      const px = v => X.getPixelForValue(v), py = v => Y.getPixelForValue(v);
      const seg = (x1, y1, x2, y2) => { ctx.beginPath(); ctx.moveTo(x1, y1); ctx.lineTo(x2, y2); ctx.stroke(); };
      const big = p.tickLen === undefined ? 12 : p.tickLen;
      ctx.save();
      ctx.strokeStyle = '#000';
      ctx.lineWidth = 2.5;
      if (big > 0) {
        (p.xTicks || []).forEach(v => seg(px(v), a.bottom, px(v), a.bottom + big));
        (p.xMinor || []).forEach(v => seg(px(v), a.bottom, px(v), a.bottom + 7));
        (p.yTicks || []).forEach(v => seg(a.left, py(v), a.left - big, py(v)));
        (p.yMinor || []).forEach(v => seg(a.left, py(v), a.left - 7, py(v)));
      }
      if (p.frameOn !== false) {
        ctx.lineWidth = 3;
        ctx.strokeRect(a.left, a.top, a.right - a.left, a.bottom - a.top);
      }
      if (p.breakAt !== undefined) {
        const bx = px(p.breakAt);
        [a.top, a.bottom].forEach(yy => {
          ctx.fillStyle = '#fff';
          ctx.fillRect(bx - 7, yy - 3, 13, 6);
          ctx.lineWidth = 2.5;
          seg(bx - 14, yy + 12, bx - 3, yy - 12);
          seg(bx - 3, yy + 12, bx + 8, yy - 12);
        });
      }
      (p.texts || []).forEach(t => drawRich(ctx, t[0], px(t[1]), py(t[2]), p.textSize || 38));
      (p.page || []).forEach(it => drawRich(ctx, it.s, it.x - p.canvas[0], it.y - p.canvas[1], it.size, it));
      ctx.restore();
    }
  };
}

function panel(p) {
  const [l, t, r, b] = p.frame;
  const [x0, y0, x1, y1] = p.canvas;
  const div = document.createElement('div');
  div.className = 'box';
  div.style.left = x0 + 'px';
  div.style.top = y0 + 'px';
  const cv = document.createElement('canvas');
  cv.width = x1 - x0; cv.height = y1 - y0;
  cv.style.width = (x1 - x0) + 'px'; cv.style.height = (y1 - y0) + 'px';
  div.appendChild(cv);
  document.getElementById('page').appendChild(div);
  const tickFont = { family: SANS, weight: 'bold', size: p.tickSize || 38 };
  return new Chart(cv, {
    type: 'scatter',
    data: { datasets: p.datasets },
    options: {
      responsive: false, animation: false, devicePixelRatio: 1,
      layout: { padding: { left: 0, top: t - y0, right: x1 - r, bottom: 0 } },
      plugins: { legend: { display: false }, tooltip: { enabled: false } },
      scales: {
        x: {
          type: 'linear', position: 'bottom', min: p.xMin, max: p.xMax,
          grid: { display: false, drawTicks: false }, border: { display: false },
          afterFit: s => { s.height = y1 - b; },
          afterBuildTicks: s => { s.ticks = (p.xTicks || []).map(v => ({ value: v })); },
          ticks: { autoSkip: false, maxRotation: 0, padding: p.xPad || 20, font: tickFont, color: '#000',
                   labelOffset: p.xLabelOffset || 0, callback: (v, i) => p.xLabels[i] }
        },
        y: {
          type: 'linear', position: 'left', min: p.yMin, max: p.yMax,
          grid: { display: false, drawTicks: false }, border: { display: false },
          afterFit: s => { s.width = l - x0; },
          afterBuildTicks: s => { s.ticks = (p.yTicks || []).map(v => ({ value: v })); },
          ticks: { display: !!p.yTicks, autoSkip: false, padding: 22, font: tickFont, color: '#000',
                   callback: v => String(v) }
        }
      }
    },
    plugins: [decor(p)]
  });
}

const pts = arr => arr.map(([x, y]) => ({ x, y }));
const trace = (arr, color, w) => ({ data: pts(arr), showLine: true, borderColor: color, borderWidth: w || 3, pointRadius: 0, order: 1 });
const guide = (m, color, dash) => ({ data: [{ x: m[0], y: m[1] }, { x: m[0], y: m[2] }], showLine: true, borderColor: color, borderWidth: 3, borderDash: dash, pointRadius: 0, order: 0 });
const iso = (arr, color, style) => ({ data: pts(arr), showLine: true, borderColor: color, borderWidth: 3, backgroundColor: color,
  pointStyle: style, pointRadius: style === 'rect' ? 12.5 : 9, pointBorderColor: color, pointBorderWidth: 1, order: 1 });

// ---------- row 1 : PXRD ----------
const yTitle = (s, x, y) => ({ s, x, y, size: 54, rot: -Math.PI / 2 });
const xTitle = (s, x, y) => ({ s, x, y, size: 50, sx: 1.1 });
const letter = (s, x, y) => ({ s, x, y, size: 50, family: SERIF });

function xrd(name, frame, canvas, black, red, marks, texts, page) {
  panel({ name, frame, canvas, xMin: 2, xMax: 30, yMin: 0, yMax: 1187,
    xTicks: xrdTicks, xLabels: xrdTickLabels, xMinor: xrdMinor, xPad: 19,
    datasets: marks.map(m => guide(m, DASHBLUE, [22, 13])).concat([trace(black, BLACK), trace(red, RED)]),
    texts, textSize: 40, page });
}
xrd('a', [210, 43, 1019, 697], [20, 0, 1060, 880], aTpBD, aPIL, aMarks,
  [['TpBD(SO_{3}H)_{2}', 15.6, 505], ['PIL@TpBD(SO_{3}H)_{2}', 15.84, 240]],
  [letter('(a)', 86, 65), yTitle('Intensity (a.u.)', 163, 370), xTitle('2*{θ} (degree)', 614, 817)]);
xrd('b', [1288, 43, 2096, 697], [1090, 0, 2136, 880], bTpPaSO3H, bPIL, bMarks,
  [['TpPaSO_{3}H', 16.24, 560], ['PIL@TpPaSO_{3}H', 16.12, 270]],
  [letter('(b)', 1142, 62), yTitle('Intensity (a.u.)', 1239, 370), xTitle('2*{θ} (degree)', 1692, 817)]);
xrd('c', [2392, 43, 3201, 697], [2190, 0, 3242, 880], cTpPa, cPIL, cMarks,
  [['TpPa', 18.15, 490], ['PIL@TpPa', 18.27, 240]],
  [letter('(c)', 2250, 65), yTitle('Intensity (a.u.)', 2344, 370), xTitle('2*{θ} (degree)', 2796, 817)]);

// ---------- row 2 : N2 isotherms with pore-size insets ----------
function isoPanel(name, frame, canvas, yMax, yTicks, ads, des, pAds, pDes, texts, page) {
  const minor = yTicks.slice(1).map((v, i) => (v + yTicks[i]) / 2);
  panel({ name, frame, canvas, xMin: 0, xMax: 1.012, yMin: 0, yMax,
    xTicks: isoXTicks, xLabels: isoXLabels, xMinor: isoXMinor, xPad: 24,
    yTicks, yMinor: minor,
    datasets: [iso(ads, NAVY, 'rect'), iso(des, NAVY, 'circle'), iso(pAds, RED, 'rect'), iso(pDes, RED, 'circle')],
    texts, textSize: 42, page });
}
isoPanel('d', [206, 878, 1021, 1534], [10, 790, 1061, 1700], 180, dYTicks, dTpBDads, dTpBDdes, dPILads, dPILdes,
  [['TpBD(SO_{3}H)_{2}', 0.564, 43], ['PIL@TpBD(SO_{3}H)_{2}', 0.585, 12]],
  [letter('(d)', 73, 839), yTitle('N_{2} Uptake (cm^{3}g^{-1})', 69, 1206), xTitle('Relative Pressure (p/p_{0})', 613, 1641)]);
isoPanel('e', [1279, 878, 2099, 1540], [1090, 790, 2139, 1700], 300, eYTicks, eTpPaSO3Hads, eTpPaSO3Hdes, ePILads, ePILdes,
  [['TpPaSO_{3}H', 0.64, 93], ['PIL@TpPaSO_{3}H', 0.623, 25.5]],
  [letter('(e)', 1139, 839), yTitle('N_{2} Uptake (cm^{3}g^{-1})', 1139, 1208), xTitle('Relative Pressure (p/p_{0})', 1689, 1641)]);
isoPanel('f', [2381, 878, 3202, 1540], [2170, 790, 3242, 1700], 1000, fYTicks, fTpPaads, fTpPades, fPILads, fPILdes,
  [['TpPa', 0.697, 334], ['PIL@TpPa', 0.65, 93]],
  [letter('(f)', 2205, 839), yTitle('N_{2} Uptake (cm^{3}g^{-1})', 2219, 1208), xTitle('Relative Pressure (p/p_{0})', 2792, 1641)]);

// pseudo-3D inset: front plane is 1.0-3.0 nm wide and 1 unit tall; depth shifts by (DX, DY)
const DX = 0.64, DY = 0.896, BACK = 0.764, FRONT = 0.276;
function edge(x1, y1, x2, y2, w) {
  return { data: [{ x: x1, y: y1 }, { x: x2, y: y2 }], showLine: true, borderColor: '#000', borderWidth: w, pointRadius: 0, order: 2 };
}
function boxEdges() {
  return [
    edge(1, 0, 1, 1, 3), edge(1, 1, 1 + DX, 1 + DY, 3), edge(1 + DX, 1 + DY, 3 + DX, 1 + DY, 3),
    edge(3 + DX, 1 + DY, 3 + DX, DY, 3), edge(3 + DX, DY, 3, 0, 3), edge(1, 0, 3, 0, 3),
    edge(1 + DX, DY, 1 + DX, 1 + DY, 1.2), edge(1 + DX, DY, 3 + DX, DY, 1.2), edge(1, 0, 1 + DX, DY, 1.2)
  ];
}
function poreLine(arr, depth, color, w) {
  return { data: arr.map(([x, v]) => ({ x: x + depth * DX, y: v + depth * DY })), showLine: true,
    borderColor: color, borderWidth: w, pointRadius: 0, order: 0 };
}
function inset(name, frame, canvas, curve, texts, titleX) {
  panel({ name, frame, canvas, xMin: 1, xMax: 3 + DX, yMin: 0, yMax: 1 + DY,
    xTicks: poreTicks, xLabels: poreLabels, tickSize: 25, xPad: 3, xLabelOffset: 18, tickLen: 0, frameOn: false,
    datasets: boxEdges().concat([poreLine(curve, BACK, NAVY, 5), poreLine(porePIL, FRONT, RED, 4.5)]),
    texts, textSize: 28,
    page: [{ s: 'Pore width (nm)', x: titleX, y: 1309, size: 36 }] });
}
inset('din', [241, 892, 801, 1258], [211, 880, 841, 1345], dPoreTpBD,
  [['TpBD(SO_{3}H)_{2}', 3.06, 0.813], ['PIL@TpBD(SO_{3}H)_{2}', 2.505, 0.373]], 453);
inset('ein', [1310, 892, 1876, 1258], [1280, 880, 1916, 1345], ePoreTpPaSO3H,
  [['TpPaSO_{3}H', 2.785, 0.813], ['PIL@TpPaSO_{3}H', 2.593, 0.373]], 1512);
inset('fin', [2417, 892, 2982, 1258], [2387, 880, 3022, 1345], fPoreTpPa,
  [['TpPa', 2.846, 0.79], ['PIL@TpPa', 2.678, 0.40]], 2628);

// ---------- row 3 : FTIR with broken wavenumber axis ----------
function virt(w, c) {
  if (w >= c.left[1]) return (c.left[0] - w) / (c.left[0] - c.left[1]) * c.frac;
  return c.frac + (c.right[0] - w) / (c.right[0] - c.right[1]) * (1 - c.frac);
}
function ftTrace(arr, c, color) {
  const data = [];
  arr.forEach(([w, v], i) => {
    if (i > 0 && arr[i - 1][0] >= c.left[1] && w < c.left[1]) data.push({ x: c.frac, y: null });
    data.push({ x: virt(w, c), y: v });
  });
  return { data, showLine: true, spanGaps: false, borderColor: color, borderWidth: 2.8, pointRadius: 0, order: 1 };
}
function ftPanel(name, frame, canvas, c, yMax, series, guides, bandPos, labels, page) {
  const texts = [];
  bandPos.forEach((b, i) => {
    texts.push([ftBandNames[i], virt(b[0], c), b[1]]);
    texts.push([ftBandValues[i], virt(b[2], c), b[3]]);
  });
  labels.forEach(l => texts.push([l[0], virt(l[1], c), l[2]]));
  panel({ name, frame, canvas, xMin: 0, xMax: 1, yMin: 0, yMax,
    xTicks: ftTicks.map(w => virt(w, c)), xLabels: ftTickLabels, xMinor: ftMinor.map(w => virt(w, c)), xPad: 24,
    breakAt: c.frac,
    datasets: guides.map(g => guide([virt(g[0], c), g[1], g[2]], BLACK, [18, 12]))
      .concat([ftTrace(series[0], c, FTBLUE), ftTrace(series[1], c, FTRED), ftTrace(series[2], c, BLACK)]),
    texts, textSize: 36, page });
}
const gAxis = { left: [3700, 2880], right: [1760, 600], frac: 0.4125 };
const hAxis = { left: [3700, 2890], right: [1775, 600], frac: 0.3385 };
const iAxis = { left: [3720, 2860], right: [1760, 595], frac: 0.39 };

ftPanel('g', [204, 1737, 1035, 2404], [10, 1680, 1075, 2573], gAxis, 1165,
  [gPIL, gPILTpPaSO3H, gTpPaSO3H], gGuides,
  [[3145, 1070, 3129, 995], [1579, 1090, 1570, 1003], [1267, 1090, 1243, 1003], [964, 1087, 939, 1000]],
  [['PIL', 3526, 865], ['PIL@TpPaSO_{3}H', 3327, 625], ['TpPaSO_{3}H', 3410, 325]],
  [letter('(g)', 95, 1717), yTitle('Transmittance (a.u', 159, 2121), xTitle('Wavenumber (cm^{−1})', 606, 2504)]);
ftPanel('h', [1290, 1737, 2132, 2413], [1120, 1680, 2172, 2573], hAxis, 1180,
  [hPIL, hPILTpBD, hTpBD], hGuides,
  [[3161, 1115, 3137, 1035], [1578, 1130, 1566, 1035], [1309, 1125, 1291, 1032], [1063, 1130, 1041, 1035]],
  [['PIL', 3551, 835], ['PIL@TpBD(SO_{3}H)_{2}', 3206, 610], ['TpBD(SO_{3}H)_{2}', 3334, 325]],
  [letter('(h)', 1215, 1717), yTitle('Transmittance (a.u', 1246, 2125), xTitle('Wavenumber (cm^{−1})', 1696, 2519)]);
ftPanel('i', [2383, 1736, 3216, 2408], [2180, 1680, 3242, 2573], iAxis, 1175,
  [iPIL, iPILTpPa, iTpPa], iGuides,
  [[3108, 1062, 3084, 975], [1571, 1067, 1563, 975], [1292, 1067, 1270, 980], [963, 1067, 942, 975]],
  [['PIL', 3526, 832], ['PIL@TpPa', 3449, 602], ['TpPa', 3519, 304]],
  [letter('(i)', 2263, 1717), yTitle('Transmittance (a.u', 2344, 2097), xTitle('Wavenumber (cm^{−1})', 2788, 2510)]);
</script>
</body>
</html>
